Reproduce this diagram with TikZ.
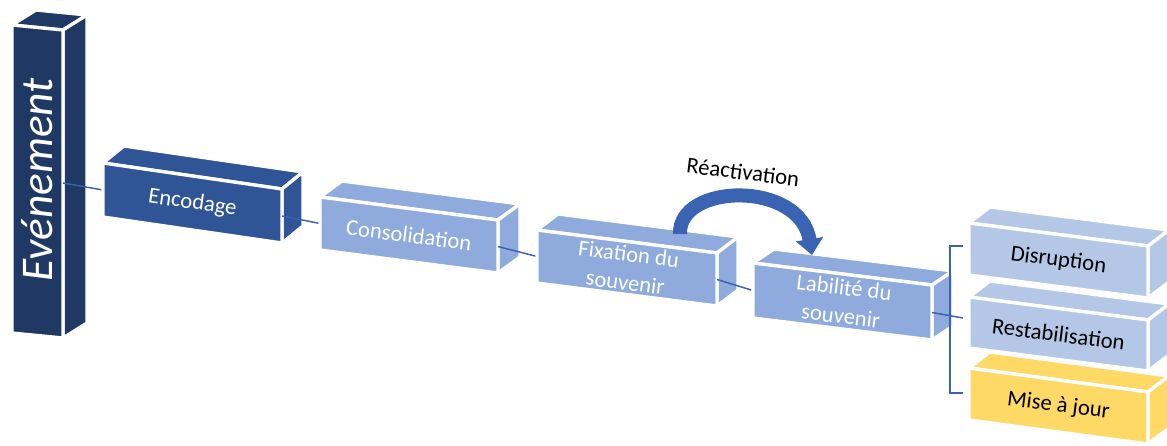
\documentclass[tikz,border=0pt]{standalone}
\usepackage{fontspec}
\setmainfont{Carlito}
\usetikzlibrary{arrows.meta}
\definecolor{evblue}{HTML}{203864}
\definecolor{encblue}{HTML}{2F5597}
\definecolor{midblue}{HTML}{8FAADC}
\definecolor{paleblue}{HTML}{B4C7E7}
\definecolor{gold}{HTML}{FFD966}
\definecolor{linkblue}{HTML}{3A62AE}
\definecolor{arrowblue}{HTML}{3A63B2}
% anchor points of a box: #1 name, #2 x, #3 y, #4 width, #5 height, #6 slope drop
\newcommand\prismpts[6]{%
  \coordinate (#1-l) at (#2,#3+#5/2);
  \coordinate (#1-r) at (#2+#4,#3+#6+#5/2);
  \coordinate (#1-c) at (#2+#4/2,#3+#6/2+#5/2);
}
% #1 x, #2 y, #3 width, #4 height, #5 slope drop, #6 depth x, #7 depth up, #8 fill
\newcommand\prism[8]{%
  \filldraw[face,fill=#8] (#1,#2) -- (#1+#6,#2-#7) -- (#1+#3+#6,#2+#5-#7) -- (#1+#3,#2+#5) -- cycle;
  \filldraw[face,fill=#8] (#1+#3,#2+#5) -- (#1+#3+#6,#2+#5-#7) -- (#1+#3+#6,#2+#5+#4-#7) -- (#1+#3,#2+#5+#4) -- cycle;
  \filldraw[face,fill=#8] (#1,#2) -- (#1+#3,#2+#5) -- (#1+#3,#2+#5+#4) -- (#1,#2+#4) -- cycle;
}
\begin{document}
\begin{tikzpicture}[x=0.75pt,y=-0.75pt,
  face/.style={draw=white,line width=2.5pt,line join=round},
  link/.style={draw=linkblue,line width=1.1pt},
  lbl/.style={text=white,font=\fontsize{17}{21.5}\selectfont,align=center,inner sep=0pt},
  dlbl/.style={text=black,font=\fontsize{17}{21.5}\selectfont,align=center,inner sep=0pt}]
\useasboundingbox (0,0) rectangle (1167,446);
\prismpts{enc}{103}{163}{179}{54}{26}
\prismpts{con}{320}{197}{178}{53}{23}
\prismpts{fix}{537}{230}{180}{53}{23}
\prismpts{lab}{753}{263}{179}{55}{22}
\prismpts{mise}{969}{368}{179}{52}{24}
\prismpts{res}{969}{297}{179}{51}{23}
\prismpts{dis}{969}{223}{179}{52}{23}
\coordinate (ev-out) at (63,183);
\coordinate (brk-t) at (963,246);
\coordinate (brk-m) at (963,318);
\coordinate (brk-b) at (963,393);
% Evenement column
\prism{12}{25}{51}{308}{5}{24}{15}{evblue}
\draw[link] (ev-out) -- (enc-l);
\prism{103}{163}{179}{54}{26}{21}{17}{encblue}
\draw[link] (enc-r) -- (con-l);
\prism{320}{197}{178}{53}{23}{22}{16}{midblue}
\draw[link] (con-r) -- (fix-l);
\prism{537}{230}{180}{53}{23}{21}{16}{midblue}
\draw[link] (fix-r) -- (lab-l);
\prism{753}{263}{179}{55}{22}{21}{14}{midblue}
% bracket
\draw[link] (lab-r) -- (brk-m);
\draw[link] (brk-t) -- (950,246) -- (950,393) -- (brk-b);
% outcome boxes
\prism{969}{368}{179}{52}{24}{21}{16}{gold}
\prism{969}{297}{179}{51}{23}{21}{16}{paleblue}
\prism{969}{223}{179}{52}{23}{21}{16}{paleblue}
% labels
\node[rotate=90,text=white,font=\fontsize{34}{40}\selectfont\itshape,inner sep=0pt] (evt) at (37,180) {Evénement};
\node[lbl,rotate=-8.3] (enct) at (enc-c) {Encodage};
\node[lbl,rotate=-7.3] (cont) at (con-c) {Consolidation};
\node[lbl,rotate=-7.3] (fixt) at (fix-c) {Fixation du\\souvenir};
\node[lbl,rotate=-7.0] (labt) at (lab-c) {Labilité du\\souvenir};
\node[dlbl,rotate=-7.3] (dist) at (dis-c) {Disruption};
\node[dlbl,rotate=-7.3] (rest) at (res-c) {Restabilisation};
\node[dlbl,rotate=-7.3] (miset) at (mise-c) {Mise à jour};
% reactivation arrow
\coordinate (rs) at (680,234);
\coordinate (rt) at (812,255);
\draw[arrowblue,line width=10.5pt,-{Triangle[width=20pt,length=12pt]}] (rs) .. controls (678,183) and (800,180) .. (rt);
\node[dlbl,rotate=-7] (react) at (743,172) {Réactivation};
\end{tikzpicture}
\end{document}
